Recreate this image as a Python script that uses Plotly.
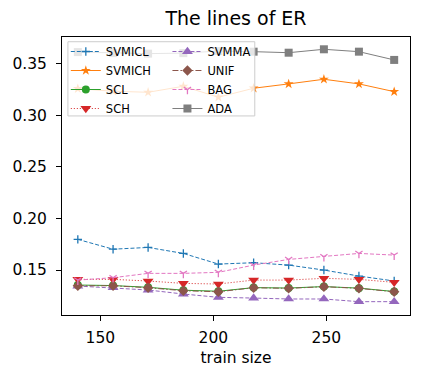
import plotly.graph_objects as go

train_size = [140, 155.6, 171.1, 186.7, 202.2, 217.8, 233.3, 248.9, 264.4, 280]

svmicl = [0.1797, 0.1702, 0.1719, 0.1661, 0.1558, 0.1571, 0.1548, 0.1500, 0.1442, 0.1394]
svmich = [0.3256, 0.3231, 0.3221, 0.3279, 0.3173, 0.3260, 0.3302, 0.3347, 0.3302, 0.3227]
scl = [0.1355, 0.1350, 0.1333, 0.1305, 0.1295, 0.1330, 0.1326, 0.1340, 0.1325, 0.1292]
sch = [0.1410, 0.1410, 0.1394, 0.1371, 0.1365, 0.1403, 0.1403, 0.1420, 0.1410, 0.1381]
svmma = [0.1345, 0.1329, 0.1307, 0.1268, 0.1236, 0.1229, 0.1220, 0.1220, 0.1194, 0.1194]
unif = [0.1348, 0.1348, 0.1329, 0.1300, 0.1290, 0.1329, 0.1323, 0.1339, 0.1323, 0.1290]
bag = [0.1403, 0.1426, 0.1468, 0.1468, 0.1478, 0.1548, 0.1603, 0.1629, 0.1661, 0.1645]
ada = [0.3610, 0.3600, 0.3595, 0.3600, 0.3620, 0.3614, 0.3604, 0.3637, 0.3614, 0.3534]

series = [
    ("SVMICL", svmicl, "#1f77b4", "4px,2px", "cross-thin", 6, "legend"),
    ("SVMICH", svmich, "#ff7f0e", "solid", "star", 7.5, "legend"),
    ("SCL", scl, "#2ca02c", "solid", "circle", 8, "legend"),
    ("SCH", sch, "#d62728", "1px,2px", "triangle-down", 9.5, "legend"),
    ("SVMMA", svmma, "#9467bd", "4px,2px", "triangle-up", 9.5, "legend2"),
    ("UNIF", unif, "#8c564b", "6px,2px,1.5px,2px", "diamond", 8, "legend2"),
    ("BAG", bag, "#e377c2", "4px,2px", "y-down", 6, "legend2"),
    ("ADA", ada, "#7f7f7f", "solid", "square", 8, "legend2"),
]

fig = go.Figure()
for name, vals, color, dash, sym, size, leg in series:
    thin = sym in ("cross-thin", "y-down")
    fig.add_trace(go.Scatter(
        x=train_size, y=vals, name=name, mode="lines+markers",
        line=dict(color=color, width=1, dash=dash),
        marker=dict(symbol=sym, size=size, color=color,
                    line=dict(color=color, width=1.3 if thin else 0)),
        legend=leg,
    ))

legend_font = dict(family="DejaVu Sans", size=11.5, color="black")
fig.update_layout(
    width=423, height=378,
    margin=dict(l=61, r=12, t=37, b=63),
    paper_bgcolor="white", plot_bgcolor="white",
    hovermode=False,
    font=dict(family="DejaVu Sans", size=15.5, color="black"),
    title=dict(text="The lines of ER", x=0.5, xref="paper", y=1 - 18 / 378,
               yref="container", yanchor="middle", xanchor="center",
               font=dict(family="DejaVu Sans", size=19, color="black")),
    legend=dict(x=0.011, y=1.0, xanchor="left", yanchor="top",
                bgcolor="rgba(0,0,0,0)", borderwidth=0, font=legend_font,
                itemwidth=30, tracegroupgap=0),
    legend2=dict(x=0.303, y=1.0, xanchor="left", yanchor="top",
                 bgcolor="rgba(0,0,0,0)", borderwidth=0, font=legend_font,
                 itemwidth=30, tracegroupgap=0),
    shapes=[dict(type="rect", xref="paper", yref="paper",
                 x0=0.017, x1=0.554, y0=0.716, y1=0.983,
                 fillcolor="rgba(255,255,255,0.8)",
                 line=dict(color="#cccccc", width=1), layer="above")],
)
fig.update_xaxes(range=[133, 287], tickvals=[150, 200, 250],
                 showline=True, linecolor="black", linewidth=1, mirror=True,
                 ticks="outside", ticklen=5, tickcolor="black", showgrid=False,
                 zeroline=False, ticklabelstandoff=3,
                 title=dict(text="train size", standoff=6,
                            font=dict(family="DejaVu Sans", size=15.5)))
fig.update_yaxes(range=[0.1065, 0.3756], tickvals=[0.15, 0.20, 0.25, 0.30, 0.35],
                 tickformat=".2f",
                 showline=True, linecolor="black", linewidth=1, mirror=True,
                 ticks="outside", ticklen=5, tickcolor="black", showgrid=False,
                 zeroline=False, ticklabelstandoff=6)

fig.write_html("out.html", config={"displayModeBar": False, "staticPlot": True},
               post_script="document.body.style.margin='0px';")
